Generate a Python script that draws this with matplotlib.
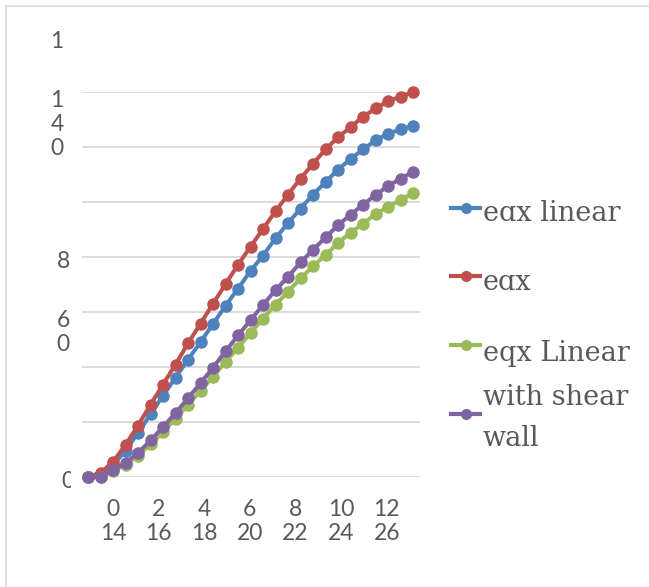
#!/usr/bin/env python
"""Redraw the eqx capacity curves: four series over 27 load steps."""

import matplotlib

matplotlib.use("Agg")
import matplotlib.pyplot as plt
from matplotlib.lines import Line2D
from matplotlib.patches import Rectangle
from matplotlib.transforms import Bbox, blended_transform_factory, offset_copy

WIDTH, HEIGHT, DPI = 649, 587, 100

# values (one point per step)
STEPS = list(range(27))
EQX_LINEAR = [0, 1.0, 4.1, 9.5, 15.9, 22.7, 29.5, 36.0, 42.6, 48.9, 55.6, 62.1, 68.4, 74.8,
              80.4, 86.7, 92.2, 97.5, 102.6, 107.1, 111.7, 115.5, 119.0, 122.3, 124.7, 126.3, 127.7]
EQX = [0, 1.4, 5.4, 11.6, 18.6, 26.2, 33.5, 40.8, 48.5, 55.7, 62.9, 70.0, 77.1, 83.6,
       90.1, 96.5, 102.6, 108.4, 113.8, 119.0, 123.4, 127.1, 130.9, 133.9, 136.6, 138.2, 139.8]
EQX_LINEAR_SW = [0, 0, 2.0, 4.4, 7.7, 11.8, 16.3, 21.1, 26.1, 31.3, 36.4, 41.7, 46.9, 52.3,
                 57.5, 62.5, 67.3, 72.1, 76.5, 80.6, 85.0, 88.7, 92.0, 95.5, 98.2, 100.6, 103.2]
SHEAR_WALL = [0, 0, 2.3, 5.0, 8.6, 13.2, 18.1, 23.1, 28.6, 34.0, 39.7, 45.6, 51.4, 56.9,
              62.5, 67.8, 72.7, 77.9, 82.5, 87.0, 91.4, 95.3, 98.9, 102.4, 105.7, 108.4, 110.8]

SERIES = [EQX_LINEAR, EQX, EQX_LINEAR_SW, SHEAR_WALL]
SERIES_LABELS = ["e\u0251x linear", "e\u0251x", "eqx Linear", "with shear\nwall"]
SERIES_COLORS = ["#4f81bd", "#c0504d", "#9bbb59", "#8064a2"]

Y_GRID = [0, 20, 40, 60, 80, 100, 120, 140]
# the wrapped / clipped axis labels as they show in the source image
Y_LABELS = [(160, "1"), (140, "1\n4\n0"), (80, "8"), (60, "6\n0"), (0, "0")]
X_TICK_POS = [2.0, 5.65, 9.3, 12.95, 16.6, 20.25, 23.9]
X_TICK_LABELS = ["0\n14", "2\n16", "4\n18", "6\n20", "8\n22", "10\n24", "12\n26"]

TEXT_GREY = "#595959"
GRID_GREY = "#d9d9d9"
TICK_FONT = ["Lato", "DejaVu Sans"]
LEGEND_FONT = ["DejaVu Serif", "DejaVu Sans"]


def fx(px: float) -> float:
    return px / WIDTH


def fy(py: float) -> float:
    return 1 - py / HEIGHT


def main() -> None:
    fig = plt.figure(figsize=(WIDTH / DPI, HEIGHT / DPI), dpi=DPI)
    fig.patch.set_facecolor("white")

    # chart-area border, runs off the right and bottom edges
    fig.add_artist(Rectangle((fx(6), fy(HEIGHT + 5)), 1.0, fy(6) - fy(HEIGHT + 5),
                             transform=fig.transFigure, fill=False,
                             edgecolor=GRID_GREY, linewidth=1.2))

    left, right, top, bottom = 81.5, 420.0, 91.7, 476.7
    ax = fig.add_axes([fx(left), fy(bottom), fx(right) - fx(left), fy(top) - fy(bottom)])
    ax.set_xlim(-0.52, 26.56)
    ax.set_ylim(0, 140)
    for side in ax.spines.values():
        side.set_visible(False)
    ax.set_yticks(Y_GRID)
    ax.set_yticklabels([])
    ax.grid(axis="y", color=GRID_GREY, linewidth=1.3)
    ax.set_axisbelow(True)
    ax.tick_params(axis="both", length=0)

    for values, color in zip(SERIES, SERIES_COLORS):
        ax.plot(STEPS, values, color=color, linewidth=2.9, marker="o",
                markersize=8, clip_on=False)

    ax.set_xticks(X_TICK_POS, X_TICK_LABELS)
    ax.tick_params(axis="x", pad=16)
    for label in ax.get_xticklabels():
        label.set_fontfamily(TICK_FONT)
        label.set_fontsize(16.5)
        label.set_color(TEXT_GREY)
        label.set_linespacing(1.2)

    # y labels hang below their tick like the wrapped Excel labels
    blend = blended_transform_factory(ax.transAxes, ax.transData)
    x_pos = {160: 57, 140: 57, 80: 63, 60: 63, 0: 68}
    for value, text in Y_LABELS:
        lift = 1.5 if "\n" in text else 4.0
        shifted = offset_copy(blend, fig=fig, y=lift, units="points")
        t = ax.text((x_pos[value] - left) / (right - left), value, text,
                    transform=shifted, ha="center", va="top", fontfamily=TICK_FONT,
                    fontsize=16.5, color=TEXT_GREY, linespacing=1.2, clip_on=False)
        if value == 0:
            # the zero is cut by the plot edge in the source
            t.set_clip_box(Bbox.from_extents(0, 0, 71, HEIGHT))
            t.set_clip_on(True)

    # legend drawn by hand so the entries overlap the way the source does
    handle_y = [208, 276, 344.5, 413.5]
    baselines = [221, 290, 361, 445.5]  # last-line baseline for the wrapped entry
    for label, color, hy, by in zip(SERIES_LABELS, SERIES_COLORS, handle_y, baselines):
        fig.add_artist(Line2D([fx(451), fx(465.5), fx(480)], [fy(hy)] * 3,
                              transform=fig.transFigure, color=color, linewidth=3.0,
                              marker="o", markersize=7, markevery=[1]))
        fig.text(fx(483), fy(by), label, ha="left", va="baseline",
                 fontfamily=LEGEND_FONT, fontsize=19.5, color=TEXT_GREY, linespacing=1.65)

    fig.savefig("out.png", dpi=DPI, facecolor=fig.get_facecolor())
    plt.close(fig)


if __name__ == "__main__":
    main()
